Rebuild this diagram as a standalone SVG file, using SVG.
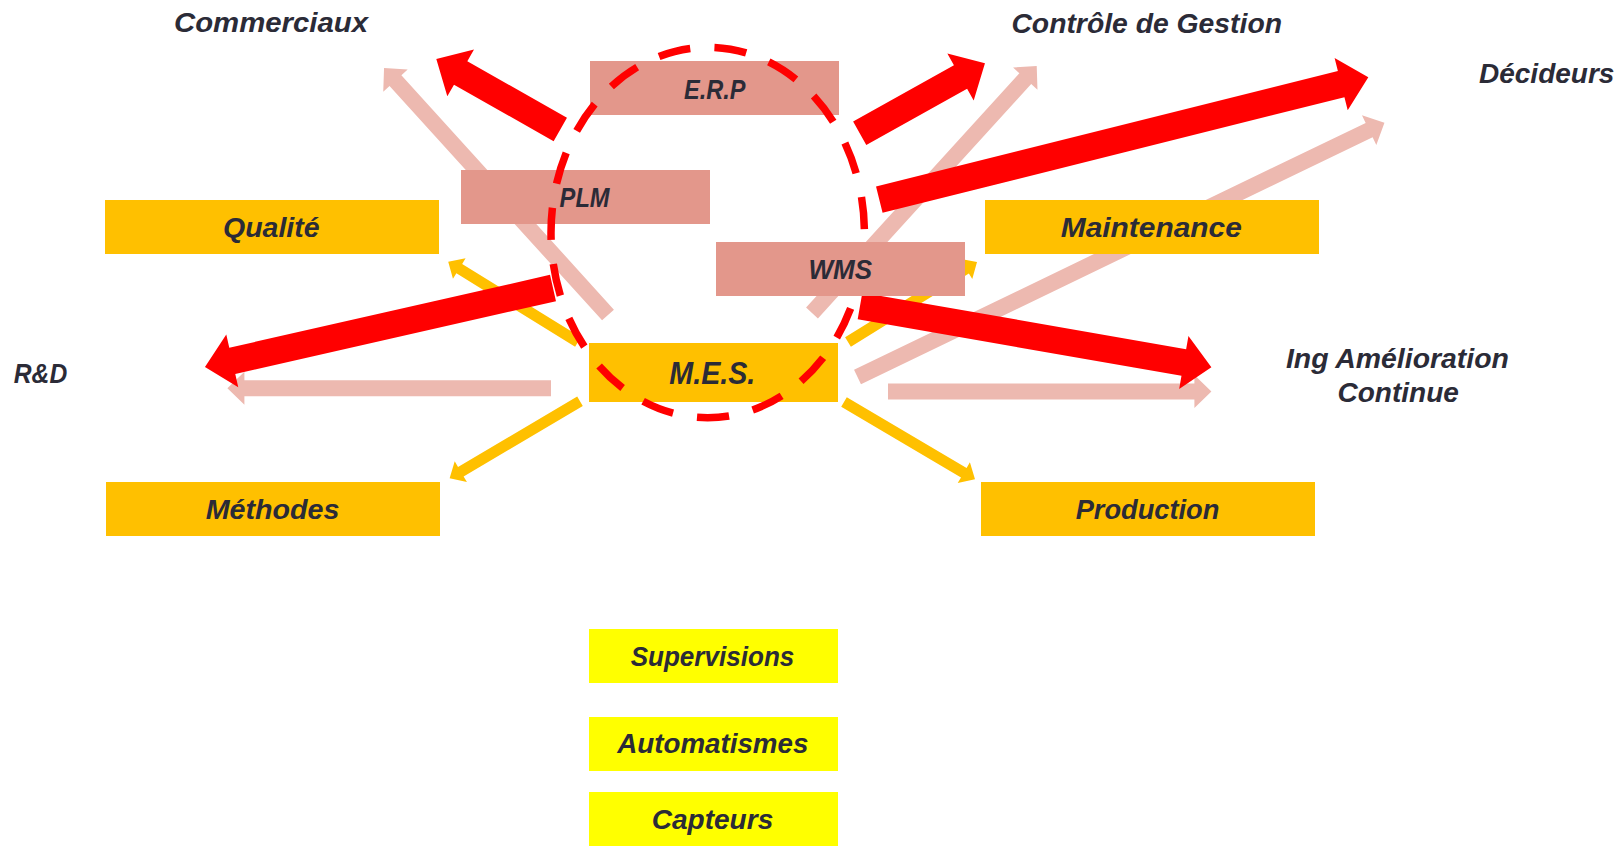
<svg xmlns="http://www.w3.org/2000/svg" width="1614" height="849" viewBox="0 0 1614 849">
<style>
.t{font-family:"Liberation Sans",Arial,sans-serif;font-weight:bold;font-style:italic;font-size:28px;fill:#2B2B37;text-anchor:middle}
.red{fill:#FF0000}
.pink{fill:#EDB9B0}
.yel{fill:#FFC000}
.sys{fill:#E3978B}
.org{fill:#FFC000}
.lev{fill:#FFFF00}
.ring{fill:none;stroke:#FF0000;stroke-width:7.5;stroke-dasharray:57 43;stroke-dashoffset:63}
</style>
<rect width="1614" height="849" fill="#FFFFFF"/>

<g id="connectors">
  <!-- pink arrows -->
  <path class="pink" transform="translate(608,315) rotate(-132.2)" d="M0,-8 H316.4 V-16.5 L333.4,0 L316.4,16.5 V8 H0 Z"/>
  <path class="pink" transform="translate(812,313) rotate(-47.7)" d="M0,-8 H316.9 V-16.5 L333.9,0 L316.9,16.5 V8 H0 Z"/>
  <path class="pink" transform="translate(857.5,377) rotate(-25.76)" d="M0,-8 H568.1 V-16.5 L585.1,0 L568.1,16.5 V8 H0 Z"/>
  <path class="pink" transform="translate(888,391.5)" d="M0,-8 H306.4 V-16.5 L323.4,0 L306.4,16.5 V8 H0 Z"/>
  <path class="pink" transform="translate(551,388.3) rotate(180)" d="M0,-8 H306.6 V-16.5 L323.6,0 L306.6,16.5 V8 H0 Z"/>
  <!-- yellow arrows -->
  <path class="yel" transform="translate(578,342) rotate(-148.26)" d="M0,-5.5 H139.6 V-12 L152.6,0 L139.6,12 V5.5 H0 Z"/>
  <path class="yel" transform="translate(580,401.3) rotate(149.44)" d="M0,-5.5 H138.4 V-12 L151.4,0 L138.4,12 V5.5 H0 Z"/>
  <path class="yel" transform="translate(844,402) rotate(30.54)" d="M0,-5.5 H139.1 V-12 L152.1,0 L139.1,12 V5.5 H0 Z"/>
  <path class="yel" transform="translate(848,342) rotate(-31.8)" d="M0,-5.5 H138.8 V-12 L151.8,0 L138.8,12 V5.5 H0 Z"/>
  <!-- red arrows -->
  <path class="red" transform="translate(560.3,129.5) rotate(-150.4)" d="M0,-13.5 H114.6 V-27 L142.6,0 L114.6,27 V13.5 H0 Z"/>
  <path class="red" transform="translate(859.7,133.3) rotate(-29.2)" d="M0,-13.5 H115.5 V-27 L143.5,0 L115.5,27 V13.5 H0 Z"/>
  <path class="red" transform="translate(879.3,199.7) rotate(-14.05)" d="M0,-13.5 H476.1 V-27 L504.1,0 L476.1,27 V13.5 H0 Z"/>
  <path class="red" transform="translate(860,306) rotate(9.9)" d="M0,-13.5 H328.7 V-27 L356.7,0 L328.7,27 V13.5 H0 Z"/>
  <path class="red" transform="translate(553,288) rotate(167.2)" d="M0,-13.5 H328.9 V-27 L356.9,0 L328.9,27 V13.5 H0 Z"/>
</g>

<g id="labels">
  <text class="t" x="271" y="31.7" textLength="194" lengthAdjust="spacingAndGlyphs">Commerciaux</text>
  <text class="t" x="1146.7" y="32.7" textLength="270.6" lengthAdjust="spacingAndGlyphs">Contrôle de Gestion</text>
  <text class="t" x="1479" y="83.3" style="text-anchor:start">Décideurs</text>
  <text class="t" x="40.5" y="382.7" textLength="53.4" lengthAdjust="spacingAndGlyphs">R&amp;D</text>
  <text class="t" x="1397.4" y="368.3" textLength="223" lengthAdjust="spacingAndGlyphs">Ing Amélioration</text>
  <text class="t" x="1398.2" y="401.7" textLength="121.4" lengthAdjust="spacingAndGlyphs">Continue</text>
</g>

<g id="qualite"><rect class="org" x="105" y="200" width="334" height="54"/><text class="t" x="271.3" y="237.3" textLength="96.6" lengthAdjust="spacingAndGlyphs">Qualité</text></g>
<g id="maintenance"><rect class="org" x="985" y="200" width="334" height="54"/><text class="t" x="1151.3" y="237.3" textLength="181" lengthAdjust="spacingAndGlyphs">Maintenance</text></g>
<g id="methodes"><rect class="org" x="106" y="482" width="334" height="54"/><text class="t" x="272.5" y="519.3" textLength="133.7" lengthAdjust="spacingAndGlyphs">Méthodes</text></g>
<g id="production"><rect class="org" x="981" y="482" width="334" height="54"/><text class="t" x="1147.5" y="519.3" textLength="143.7" lengthAdjust="spacingAndGlyphs">Production</text></g>
<g id="erp"><rect class="sys" x="590" y="61" width="249" height="54"/><text class="t" x="714.7" y="99" textLength="61.4" lengthAdjust="spacingAndGlyphs">E.R.P</text></g>
<g id="plm"><rect class="sys" x="461" y="170" width="249" height="54"/><text class="t" x="584.6" y="207.3" textLength="50" lengthAdjust="spacingAndGlyphs">PLM</text></g>
<g id="mes"><rect class="org" x="589" y="343" width="249" height="59"/><text class="t" x="712.3" y="384" style="font-size:31px" textLength="86" lengthAdjust="spacingAndGlyphs">M.E.S.</text></g>

<g id="erp-ring">
  <path class="ring" pathLength="1900" d="M864.4,232.5 A156.7,185.2 0 1 1 551,232.5 A156.7,185.2 0 1 1 864.4,232.5"/>
</g>

<g id="wms"><rect class="sys" x="716" y="242" width="249" height="54"/><text class="t" x="840.3" y="279" textLength="63.6" lengthAdjust="spacingAndGlyphs">WMS</text></g>
<g id="supervisions"><rect class="lev" x="589" y="629" width="249" height="54"/><text class="t" x="712.5" y="665.7" textLength="163.7" lengthAdjust="spacingAndGlyphs">Supervisions</text></g>
<g id="automatismes"><rect class="lev" x="589" y="717" width="249" height="54"/><text class="t" x="712.8" y="753.3" textLength="191" lengthAdjust="spacingAndGlyphs">Automatismes</text></g>
<g id="capteurs"><rect class="lev" x="589" y="792" width="249" height="54"/><text class="t" x="712.5" y="829.3" textLength="121.6" lengthAdjust="spacingAndGlyphs">Capteurs</text></g>
</svg>
